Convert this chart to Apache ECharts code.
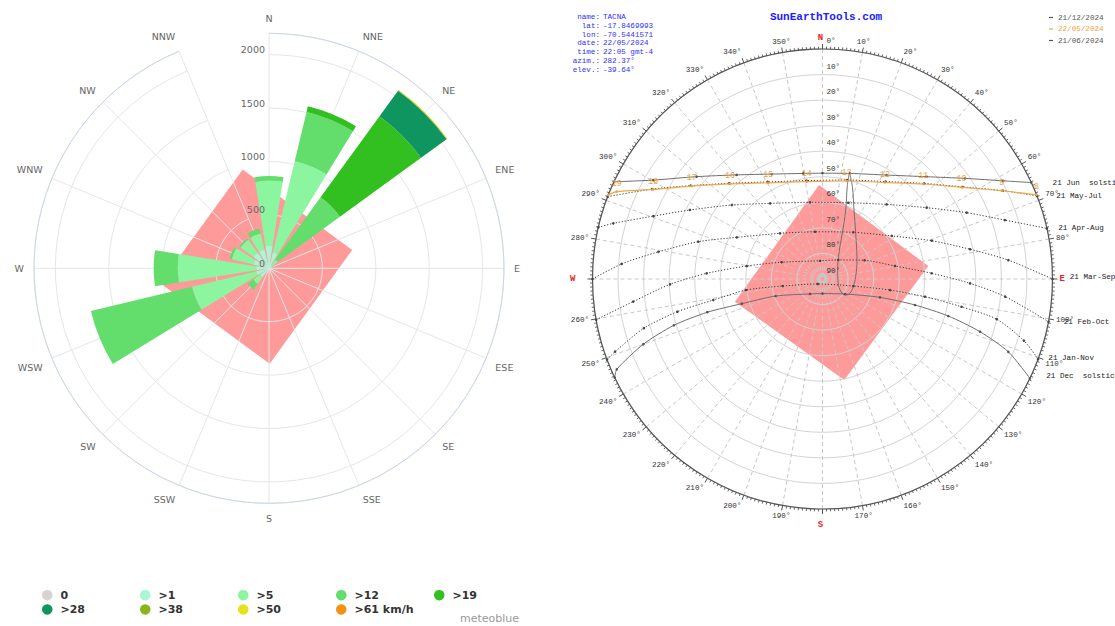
<!DOCTYPE html>
<html><head><meta charset="utf-8">
<script src="https://cdn.jsdelivr.net/npm/echarts@6/dist/echarts.min.js"></script>
<style>html,body{margin:0;padding:0;background:#fff;}#c{width:1115px;height:626px;}</style>
</head><body><div id="c"></div>
<script>
// ---------- Wind rose data (meteoblue) ----------
const windDirs = ['N','NNE','NE','ENE','E','ESE','SE','SSE','S','SSW','SW','WSW','W','WNW','NW','NNW'];
const speedClasses = ['0','>1','>5','>12','>19','>28','>38','>50','>61 km/h'];
const freq0  = [0,0,0,0,0,0,0,0,0,0,0,0,0,0,0,0];
const freq1  = [210,150,40,20,10,0,0,0,0,10,100,120,120,150,180,180];
const freq5  = [609,880,60,15,0,0,0,0,0,0,80,622,735,208,150,156];
const freq12 = [44,475,721,10,0,0,0,0,0,0,67,973,225,22,16,47];
const freq19 = [0,54,939,0,0,0,0,0,0,0,0,0,0,0,0,0];
const freq28 = [0,0,295,0,0,0,0,0,0,0,0,0,0,0,0,0];
const freq38 = [0,0,6,0,0,0,0,0,0,0,0,0,0,0,0,0];
const freq50 = [0,0,4,0,0,0,0,0,0,0,0,0,0,0,0,0];
const freq61 = [0,0,0,0,0,0,0,0,0,0,0,0,0,0,0,0];
const radiusTicks = [0,500,1000,1500,2000];
// pink overlay square on the rose: [value, compass degrees]
const rosePink = [[957,345.1],[797,77.6],[894,179.6],[1028,262.2]];

// ---------- Sun path data (SunEarthTools) : [elevation, azimuth] ----------
const sunJun = [[0,295.0],[13.3,300.3],[26.5,309.1],[37.2,320.5],[44.4,334.2],[48.0,349.7],[48.6,0],[47.3,14.6],[42.2,31.7],[32.9,45.5],[21.7,54.8],[9.5,61.5],[0,65.2]];
const sunMayJul = [[0,291.0],[14.6,297.8],[26.8,305.3],[37.7,315.7],[46.4,330.6],[51.0,350.8],[50.1,13.9],[44.6,32.9],[35.4,46.8],[24.4,56.7],[11.4,63.9],[0,68.8]];
const sunToday = [[0,291.4],[2.5,293.0],[15.1,297.9],[27.2,305.4],[38.1,315.8],[46.8,330.6],[51.4,350.8],[50.5,13.9],[45.0,32.9],[35.8,46.7],[24.8,56.6],[11.8,63.8],[0,68.5]];
const todayHours = ['','19','18','17','16','15','14','13','12','11','10','9','8'];
const sunAprAug = [[0,283.0],[5.3,284.9],[19.4,290.4],[31.5,297.5],[44.2,309.2],[54.0,325.3],[59.6,350.7],[58.5,18.7],[51.5,40.7],[40.6,55.6],[27.9,65.3],[15.0,72.1],[0,77.3]];
const sunMarSep = [[0,270],[11.2,274.3],[24.9,279.4],[39.2,286.7],[52.7,295.9],[65.6,317.1],[71.3,351.0],[68.1,33.4],[58.1,58.1],[44.7,70.7],[31.1,78.6],[16.9,84.2],[0,90]];
const sunFebOct = [[0,259.8],[15.4,263.2],[30.3,268.0],[44.6,272.8],[59.9,279.7],[72.7,292.3],[82.8,352.2],[80.3,39.7],[72.0,66.0],[61.2,79.8],[47.2,87.0],[32.2,91.7],[18.2,95.5],[0,100.7]];
const sunJanNov = [[0,249.5],[4.0,250.7],[17.5,254.6],[31.8,257.3],[46.5,259.1],[59.8,261.8],[74.2,260.0],[87.3,224.0],[77.6,102.8],[63.2,99.3],[49.3,99.8],[34.5,101.3],[20.0,103.0],[7.6,107.0],[0,110.4]];
const sunDec = [[0,244.6],[2.1,246.3],[15.4,250.0],[29.1,252.7],[43.1,253.9],[57.0,253.0],[70.5,250.0],[82.4,219.8],[84.3,180],[79.4,123.7],[66.4,107.7],[52.4,105.7],[38.7,106.4],[25.0,108.5],[11.9,111.4],[0,115.6]];
const analemma = [[47.1,14.2],[52.0,17.9],[60.3,24.5],[67.9,36.0],[74.6,61.2],[77.0,86.0],[77.6,104.0],[77.9,117.5],[79.0,124.6],[81.2,124.5],[83.6,105.2],[83.1,59.4],[78.1,32.7],[70.5,23.4],[61.5,18.6],[52.6,15.0],[47.1,14.2]];
const sunPink = [[53.2,357.9],[48.3,83.0],[49.6,167.8],[54.6,255.5]];
const cardinals = {0:'N',90:'E',180:'S',270:'W'};
const sunInfoLabels = ['name:','lat:','lon:','date:','time:','azim.:','elev.:'];
const sunInfoValues = ['TACNA','-17.8469993','-70.5441571','22/05/2024','22:05 gmt-4','282.37°','-39.64°'];
const sunLegend = ['21/12/2024','22/05/2024','21/06/2024'];

// ---------- styles ----------
const MONO = '"Liberation Mono","DejaVu Sans Mono",monospace';
const SANS = '"DejaVu Sans",sans-serif';
const speedColors = ['#d8d2d2','#a9f5d6','#8bf5a0','#63de6c','#31c020','#0f9560','#8db41a','#e6e21c','#f39212'];
const PINK = '#ff9a9a';

const freqs = [freq0,freq1,freq5,freq12,freq19,freq28,freq38,freq50,freq61];
const windSeries = speedClasses.map((name,i)=>({
  name, type:'bar', coordinateSystem:'polar', polarIndex:0, stack:'wind',
  barCategoryGap:'20%', data:freqs[i], itemStyle:{color:speedColors[i]}, z:2
}));

function pinkSeries(polarIndex, verts){
  return {type:'custom', coordinateSystem:'polar', polarIndex, z:-5, silent:true, clip:false, data:verts,
    renderItem:(params, api)=>{
      if(params.dataIndex!==0) return null;
      return {type:'polygon', shape:{points:verts.map(v=>api.coord(v))}, style:{fill:PINK}};
    }};
}

function sunLine(name, pts, lineStyle, symColor, endText, endDist, endOff){
  return {name, type:'line', coordinateSystem:'polar', polarIndex:2, smooth:0.25, clip:false,
    symbol:'circle', symbolSize:2.6, showSymbol:true,
    itemStyle:{color:symColor}, lineStyle, z:3,
    data:pts.map((p,i)=> i===pts.length-1 && endText ? {value:p, label:{show:true, position:'right', distance:endDist, offset:endOff||[0,0], formatter:endText, color:'#222', fontFamily:MONO, fontSize:7.6}} : p)
  };
}
const dotted = {color:'#3a3a3a', width:1, type:[1.2,1.8]};
const solidGray = {color:'#6e6e6e', width:1};

const sunSeries = [
  pinkSeries(2, sunPink),
  sunLine('21/06/2024', sunJun, solidGray, '#555', '21 Jun  solstice', 20),
  sunLine('21 May-Jul', sunMayJul, dotted, '#444', '21 May-Jul', 18),
  sunLine('21 Apr-Aug', sunAprAug, dotted, '#444', '21 Apr-Aug', 10),
  sunLine('21 Mar-Sep', sunMarSep, dotted, '#444', '21 Mar-Sep', 16, [0,-2]),
  sunLine('21 Feb-Oct', sunFebOct, dotted, '#444', '21 Feb-Oct', 14),
  sunLine('21 Jan-Nov', sunJanNov, dotted, '#444', '21 Jan-Nov', 9, [0,-1]),
  sunLine('21/12/2024', sunDec, solidGray, '#555', '21 Dec  solstice', 15, [0,-2]),
  {name:'22/05/2024', type:'line', coordinateSystem:'polar', polarIndex:2, smooth:0.25, clip:false,
   symbol:'circle', symbolSize:2.6, itemStyle:{color:'#f0a040'}, lineStyle:{color:'#f0a848', width:1.2}, z:4,
   label:{show:true, position:'top', distance:3, color:'#f0a040', fontFamily:MONO, fontSize:8.3,
     formatter:(p)=>todayHours[p.dataIndex]},
   data:sunToday},
  {name:'analemma', type:'line', coordinateSystem:'polar', polarIndex:2, smooth:0.4, symbol:'none', clip:false,
   lineStyle:{color:'#666', width:0.9}, z:3, data:analemma}
];

const legendCols = [['0','>28'],['>1','>38'],['>5','>50'],['>12','>61 km/h'],['>19']];
const legendLefts = [37,135,233,331,429];

const option = {
  animation:false,
  backgroundColor:'#fff',
  polar:[
    {center:[269,268.3], radius:235},
    {center:[269,268.3], radius:235},
    {center:[822.5,279], radius:230}
  ],
  angleAxis:[
    {polarIndex:0, type:'category', data:windDirs, boundaryGap:false, startAngle:90, clockwise:true,
     axisLine:{show:true, lineStyle:{color:'#ccd6eb', width:1}},
     axisTick:{show:false},
     axisLabel:{color:'#666', fontSize:9.5, fontFamily:SANS, margin:10},
     splitLine:{show:true, lineStyle:{color:'#e6e6e6', width:1}}},
    {polarIndex:1, type:'value', min:0, max:360, startAngle:90, clockwise:true, show:false,
     axisLine:{show:false}, axisLabel:{show:false}, axisTick:{show:false}, splitLine:{show:false}},
    {polarIndex:2, type:'value', min:0, max:360, interval:10, startAngle:90, clockwise:true,
     axisLine:{show:true, lineStyle:{color:'#555', width:1.2}},
     axisTick:{show:true, length:5, lineStyle:{color:'#555'}},
     minorTick:{show:true, splitNumber:10, length:2.5, lineStyle:{color:'#666'}},
     axisLabel:{margin:7, color:'#333', fontFamily:MONO, fontSize:7.6,
       formatter:(v)=> v===360 ? '' : (cardinals[v] ? '{'+cardinals[v]+'|'+cardinals[v]+'}' : v+'°'),
       rich:{
         N:{color:'#ee2020', fontWeight:'bold', fontSize:9, fontFamily:MONO, padding:[0,4,0,0]},
         E:{color:'#ee2020', fontWeight:'bold', fontSize:9, fontFamily:MONO},
         S:{color:'#ee2020', fontWeight:'bold', fontSize:9, fontFamily:MONO, padding:[4,4,0,0]},
         W:{color:'#ee2020', fontWeight:'bold', fontSize:9, fontFamily:MONO, padding:[0,10,0,0]}
       }},
     splitLine:{show:true, lineStyle:{color:'#c8c8c8', type:[4,3], width:1}}}
  ],
  radiusAxis:[
    {polarIndex:0, type:'value', min:0, max:2200, interval:500,
     axisLine:{show:false}, axisTick:{show:false}, axisLabel:{show:false},
     splitLine:{show:true, lineStyle:{color:'#e6e6e6', width:1}}},
    {polarIndex:1, type:'value', min:0, max:2200, interval:500, z:10,
     axisLine:{show:false}, axisTick:{show:false}, splitLine:{show:false},
     axisLabel:{color:'#666', fontSize:9.5, fontFamily:SANS, margin:4, verticalAlign:'bottom', showMaxLabel:false,
       formatter:(v)=> radiusTicks.indexOf(v)>=0 ? String(v) : ''}},
    {polarIndex:2, type:'value', min:0, max:90, interval:10, inverse:true,
     axisLine:{show:false}, axisTick:{show:false},
     axisLabel:{formatter:'{value}°', color:'#333', fontSize:7.6, fontFamily:MONO, margin:-4, align:'left', verticalAlign:'bottom', padding:[0,0,4,0]},
     splitLine:{show:true, lineStyle:{color:'#d4d4d4', width:1}}}
  ],
  legend: legendCols.map((names,i)=>({
    data:names, orient:'vertical', left:legendLefts[i], top:583, icon:'circle',
    itemWidth:10.5, itemHeight:10.5, itemGap:0, selectedMode:false,
    textStyle:{fontFamily:SANS, fontSize:11, fontWeight:'bold', color:'#333', lineHeight:14.3, padding:[0,0,0,3]}
  })).concat([{
    data:[{name:sunLegend[0], textStyle:{color:'#555'}},{name:sunLegend[1], textStyle:{color:'#f0a040'}},{name:sunLegend[2], textStyle:{color:'#555'}}],
    orient:'vertical', left:1044, top:8, icon:'rect', itemWidth:4, itemHeight:1.2, itemGap:2.5, selectedMode:false,
    textStyle:{fontFamily:MONO, fontSize:7.6, lineHeight:9}
  }]),
  graphic:[
    {type:'text', x:519, y:618, style:{text:'meteoblue', textAlign:'right', textVerticalAlign:'middle', fill:'#9a9a9a', font:'11px "DejaVu Sans"'}},
    {type:'text', x:826, y:17, style:{text:'SunEarthTools.com', textAlign:'center', textVerticalAlign:'middle', fill:'#2020ff', font:'bold 11px "Liberation Mono"'}},
    {type:'text', x:600, y:12.3, style:{text:sunInfoLabels.join('\n'), textAlign:'right', textVerticalAlign:'top', fill:'#3030ff', font:'7.6px "Liberation Mono"', lineHeight:8.9}},
    {type:'text', x:603, y:12.3, style:{text:sunInfoValues.join('\n'), textAlign:'left', textVerticalAlign:'top', fill:'#3030ff', font:'7.6px "Liberation Mono"', lineHeight:8.9}}
  ],
  series:[pinkSeries(1, rosePink)].concat(windSeries, sunSeries)
};

const chart = echarts.init(document.getElementById('c'), null, {renderer:'svg'});
chart.setOption(option);
</script></body></html>
